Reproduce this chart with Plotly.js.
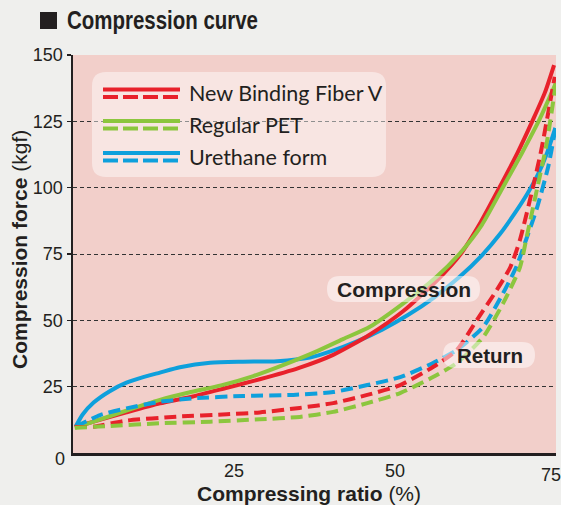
<!DOCTYPE html>
<html><head><meta charset="utf-8">
<script src="https://cdn.plot.ly/plotly-3.0.1.min.js"></script>
<style>html,body{margin:0;padding:0;background:#efefed}</style>
</head><body><div id="chart" style="width:561px;height:505px"></div>
<script>
// ---- data ----
const seriesNames = ["New Binding Fiber V", "Regular PET", "Urethane form"];
const nbfCompX = [0.3, 3.2, 8.3, 13.5, 18.6, 23.9, 29, 35, 40.4, 46, 51.3, 56.5, 60.2, 63.3, 66.2, 69, 71.5, 73.3, 74.7];
const nbfCompY = [9.8, 11.8, 15.3, 18.7, 21.3, 24.6, 27.8, 32, 37, 44.5, 53.5, 65, 75, 87, 100, 113, 126, 136, 146.2];
const petCompX = [0.3, 3.2, 8.3, 13.5, 18, 23, 28, 33, 38, 42, 46.1, 51.3, 56.5, 60.1, 63.5, 66.5, 69.7, 72.5, 75];
const petCompY = [9.5, 11.8, 16, 20, 22.8, 25.5, 29, 33.5, 38.5, 43, 47.6, 56.4, 66.5, 75.3, 86, 99, 113, 126, 139.5];
const uretCompX = [0.4, 1.5, 3.2, 5.7, 8.3, 10.9, 13.5, 16.6, 21.3, 26.4, 31.7, 36.8, 40, 44, 48, 52, 56, 60, 63.5, 66.3, 68.5, 70.5, 72.2, 73.6, 74.9];
const uretCompY = [9.9, 14.5, 19, 23.3, 26.5, 28.6, 30.3, 32.3, 34, 34.4, 34.6, 36, 38.3, 42, 46.5, 52, 58.5, 66.3, 74.5, 82.5, 90, 97.5, 105, 113, 122.5];
const nbfRetX = [0.3, 3.2, 8.3, 16.1, 23.9, 29, 35.2, 40.4, 45.7, 50.8, 55.9, 59.6, 62.7, 65.8, 67.9, 69.4, 71.4, 72.7, 74.8];
const nbfRetY = [9.8, 9.9, 12.2, 13.7, 14.6, 15.3, 17, 18.8, 21.9, 25.6, 32.4, 38.8, 50.1, 61.4, 70, 80.3, 100, 114, 141.8];
const petRetX = [0.3, 5.7, 13.5, 21.3, 29, 35.2, 40.4, 45.7, 50.8, 55.9, 59.6, 63.7, 66.8, 69.4, 70.5, 72.1, 73.5, 75];
const petRetY = [9.5, 10.2, 11.2, 11.8, 12.7, 13.6, 15.5, 18.8, 22.6, 28.6, 33.9, 43.7, 56.5, 70, 82, 100, 116, 139.5];
const uretRetX = [0.4, 4.2, 8.3, 13.5, 18.6, 26.4, 34.2, 40.4, 45.7, 50.8, 55.9, 59.6, 63.7, 66.8, 68.9, 70.3, 72, 73.8, 75];
const uretRetY = [9.9, 14.3, 16.8, 19.3, 20.6, 21.5, 21.9, 23, 25.6, 28.6, 33.9, 38.8, 47.5, 60.3, 70.5, 80, 92, 108, 123.5];
const xTicks = [25, 50, 75];
const yTicks = [25, 50, 75, 100, 125, 150];

// ---- style ----
const RED = "#e8212b", GREEN = "#8cc63e", BLUE = "#0ea0dc";
const INK = "#231f20";
const SANS = "'Liberation Sans', Arial, sans-serif";
const W = 561, H = 505, L = 73, R = 556, T = 55, B = 453;
const DASH = "12px,6px";

function px(x) { return (x - L) / (R - L); }
function py(y) { return (B - y) / (B - T); }
function roundRect(x0, y0, x1, y1, r) {
  const P = (x, y) => px(x).toFixed(5) + "," + py(y).toFixed(5);
  return "M" + P(x0 + r, y0) + " L" + P(x1 - r, y0) + " Q" + P(x1, y0) + " " + P(x1, y0 + r) +
    " L" + P(x1, y1 - r) + " Q" + P(x1, y1) + " " + P(x1 - r, y1) +
    " L" + P(x0 + r, y1) + " Q" + P(x0, y1) + " " + P(x0, y1 - r) +
    " L" + P(x0, y0 + r) + " Q" + P(x0, y0) + " " + P(x0 + r, y0) + " Z";
}

function tr(x, y, color, dash, name) {
  return { x: x, y: y, type: "scatter", mode: "lines", name: name, showlegend: false,
    hoverinfo: "skip",
    line: { color: color, width: 4, dash: dash, shape: "spline", smoothing: 0.6 } };
}
const data = [
  tr(uretCompX, uretCompY, BLUE, "solid", seriesNames[2]),
  tr(nbfCompX, nbfCompY, RED, "solid", seriesNames[0]),
  tr(petCompX, petCompY, GREEN, "solid", seriesNames[1]),
  tr(uretRetX, uretRetY, BLUE, DASH, seriesNames[2]),
  tr(nbfRetX, nbfRetY, RED, DASH, seriesNames[0]),
  tr(petRetX, petRetY, GREEN, DASH, seriesNames[1])
];

const shapes = [
  { type: "rect", xref: "paper", yref: "paper", x0: px(40), x1: px(57), y0: py(12), y1: py(29),
    fillcolor: INK, line: { width: 0 } },
  { type: "path", xref: "paper", yref: "paper", path: roundRect(92, 72, 386, 177, 14),
    fillcolor: "rgba(255,255,255,0.45)", line: { width: 0 }, layer: "above" },
  { type: "path", xref: "paper", yref: "paper", path: roundRect(327, 276, 480, 302, 13),
    fillcolor: "rgba(255,255,255,0.5)", line: { width: 0 }, layer: "above" },
  { type: "path", xref: "paper", yref: "paper", path: roundRect(443, 342, 535, 368, 13),
    fillcolor: "rgba(255,255,255,0.5)", line: { width: 0 }, layer: "above" }
];
const legendColors = [RED, GREEN, BLUE];
const legendRows = [89.5, 121, 153];
const annotations = [];
legendColors.forEach((c, i) => {
  const y = legendRows[i];
  shapes.push({ type: "line", xref: "paper", yref: "paper", x0: px(103), x1: px(180), y0: py(y), y1: py(y),
    line: { color: c, width: 4 }, layer: "above" });
  shapes.push({ type: "line", xref: "paper", yref: "paper", x0: px(103), x1: px(180), y0: py(y + 7.5), y1: py(y + 7.5),
    line: { color: c, width: 4, dash: "15px,5px" }, layer: "above" });
  annotations.push({ xref: "paper", yref: "paper", x: px(187), y: py(y + 3.5), xanchor: "left", yanchor: "middle",
    text: seriesNames[i], showarrow: false, font: { family: "Lato, 'Open Sans', sans-serif", size: 21.5, color: INK } });
});
annotations.push(
  { xref: "paper", yref: "paper", x: px(162.5), y: py(20.5), xanchor: "center", yanchor: "middle",
    text: "<b>Compression curve</b>", showarrow: false,
    font: { family: SANS, size: 25, color: INK } },
  { xref: "paper", yref: "paper", x: px(403.5), y: py(289.5), xanchor: "center", yanchor: "middle",
    text: "<b>Compression</b>", showarrow: false, font: { family: SANS, size: 21, color: INK } },
  { xref: "paper", yref: "paper", x: px(489.5), y: py(355.5), xanchor: "center", yanchor: "middle",
    text: "<b>Return</b>", showarrow: false, font: { family: SANS, size: 20.5, color: INK } },
  { xref: "paper", yref: "paper", x: px(309), y: py(493), xanchor: "center", yanchor: "middle",
    text: "<b>Compressing ratio</b> (%)", showarrow: false, font: { family: SANS, size: 21, color: INK } },
  { xref: "paper", yref: "paper", x: px(20), y: py(250), xanchor: "center", yanchor: "middle", textangle: -90,
    text: "<b>Compression force</b> (kgf)", showarrow: false, font: { family: SANS, size: 21, color: INK } },
  { xref: "paper", yref: "paper", x: px(67), y: py(459), xanchor: "right", yanchor: "middle",
    text: "0", showarrow: false, font: { family: SANS, size: 18, color: INK } },
  // last x tick label, nudged inside the page edge
  { xref: "x", yref: "paper", x: xTicks[2], xshift: -5, y: py(463), xanchor: "center", yanchor: "top",
    text: String(xTicks[2]), showarrow: false, font: { family: SANS, size: 18, color: INK } }
);

const layout = {
  width: W, height: H,
  margin: { l: L, r: W - R, t: T, b: H - B, pad: 0 },
  paper_bgcolor: "#efefed",
  plot_bgcolor: "#f2cfca",
  showlegend: false,
  xaxis: { range: [0, 75], tickvals: xTicks.slice(0, 2), ticktext: xTicks.slice(0, 2).map(String), showgrid: false, zeroline: false,
    showline: true, linecolor: INK, linewidth: 2.5, ticks: "", fixedrange: true,
    tickfont: { family: SANS, size: 18, color: INK } },
  yaxis: { range: [0, 150], tickvals: yTicks, ticktext: yTicks.map(String), showgrid: true, gridcolor: "#333",
    gridwidth: 1, griddash: "4px,3px", zeroline: false, showline: true, linecolor: INK, linewidth: 2.5,
    ticks: "outside", ticklen: 4, tickwidth: 1.5, tickcolor: INK, fixedrange: true,
    tickfont: { family: SANS, size: 18, color: INK } },
  shapes: shapes,
  annotations: annotations
};
Plotly.newPlot("chart", data, layout, { displayModeBar: false, staticPlot: true }).then(gd => {
  // condense the heading like the reference's narrow bold face
  document.querySelectorAll(".annotation-text").forEach(el => {
    if (el.textContent === "Compression curve") {
      el.setAttribute("textLength", "191");
      el.setAttribute("lengthAdjust", "spacingAndGlyphs");
      const r = el.getBoundingClientRect();
      const dx = 67 - r.left;
      const t = el.getAttribute("transform") || "";
      el.setAttribute("transform", t + " translate(" + dx.toFixed(2) + ",0)");
    }
  });
});
</script>
</body></html>
